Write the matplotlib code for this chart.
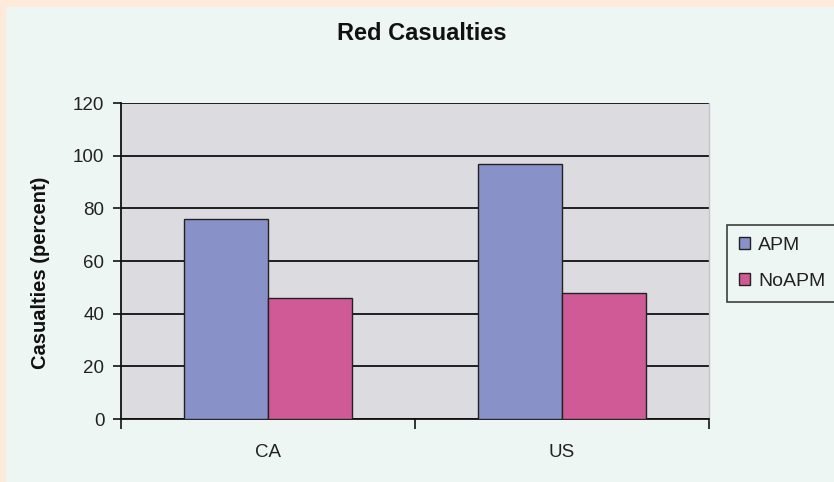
import matplotlib
matplotlib.use("Agg")
import matplotlib.pyplot as plt
from matplotlib.patches import Rectangle
import numpy as np

categories = ["CA", "US"]
series_names = ["APM", "NoAPM"]
apm = [76, 97]
noapm = [46, 48]
yticks = [0, 20, 40, 60, 80, 100, 120]

W, H = 834, 482
fig = plt.figure(figsize=(W / 100, H / 100), dpi=100)
fig.patch.set_facecolor("#fdeadb")
fig.patches.append(Rectangle((6 / W, 0), 1, 1 - 7 / H, transform=fig.transFigure,
                             facecolor="#eef6f4", edgecolor="none", zorder=-10))

plt.rcParams["font.family"] = ["Liberation Sans", "DejaVu Sans"]

L, R, B, T = 121, 709, 419, 103
ax = fig.add_axes([L / W, 1 - B / H, (R - L) / W, (B - T) / H])
ax.set_facecolor("#dcdce0")

x = np.arange(len(categories))
bw = 0.286
ax.bar(x - bw / 2, apm, bw, color="#8891c8", edgecolor="#222222", linewidth=1.0,
       label=series_names[0], zorder=3)
ax.bar(x + bw / 2, noapm, bw, color="#cf5a96", edgecolor="#222222", linewidth=1.0,
       label=series_names[1], zorder=3)

ax.set_xlim(-0.5, len(categories) - 0.5)
ax.set_ylim(0, 120)
ax.set_yticks(yticks)
ax.set_yticklabels([str(v) for v in yticks], fontsize=13.5, color="#222222")
ax.yaxis.grid(True, color="#111111", linewidth=1.3, zorder=1)
ax.set_axisbelow(True)

ax.set_xticks(x)
ax.set_xticklabels(categories, fontsize=13.5, color="#222222")
ax.tick_params(axis="x", which="major", length=0, pad=18)
ax.set_xticks(np.arange(-0.5, len(categories)), minor=True)
ax.tick_params(axis="x", which="minor", length=7, width=1.2, color="#111111")
ax.tick_params(axis="y", length=6, width=1.2, color="#111111", pad=6)

ax.spines["top"].set_visible(False)
ax.spines["right"].set_color("#c4c4ca")
ax.spines["right"].set_linewidth(1.0)
ax.spines["left"].set_color("#111111")
ax.spines["bottom"].set_color("#111111")
ax.spines["left"].set_linewidth(1.3)
ax.spines["bottom"].set_linewidth(1.3)

fig.text(422 / W, 1 - 34 / H, "Red Casualties", ha="center", va="center",
         fontsize=17, fontweight="bold", color="#111111")
fig.text(41 / W, 1 - 273 / H, "Casualties (percent)", ha="center", va="center",
         rotation=90, fontsize=14.5, fontweight="bold", color="#111111")

leg = ax.legend(loc="upper left", bbox_to_anchor=(727 / W, 1 - 225 / H),
                bbox_transform=fig.transFigure, fontsize=14, frameon=True,
                fancybox=False, handlelength=0.6, handleheight=0.6,
                handletextpad=0.4, borderpad=0.6, labelspacing=1.0,
                borderaxespad=0)
leg.get_frame().set_edgecolor("#111111")
leg.get_frame().set_facecolor("#eef6f4")
leg.get_frame().set_linewidth(1.2)
for t in leg.get_texts():
    t.set_color("#222222")

fig.savefig("out.png", dpi=100, facecolor=fig.get_facecolor())
